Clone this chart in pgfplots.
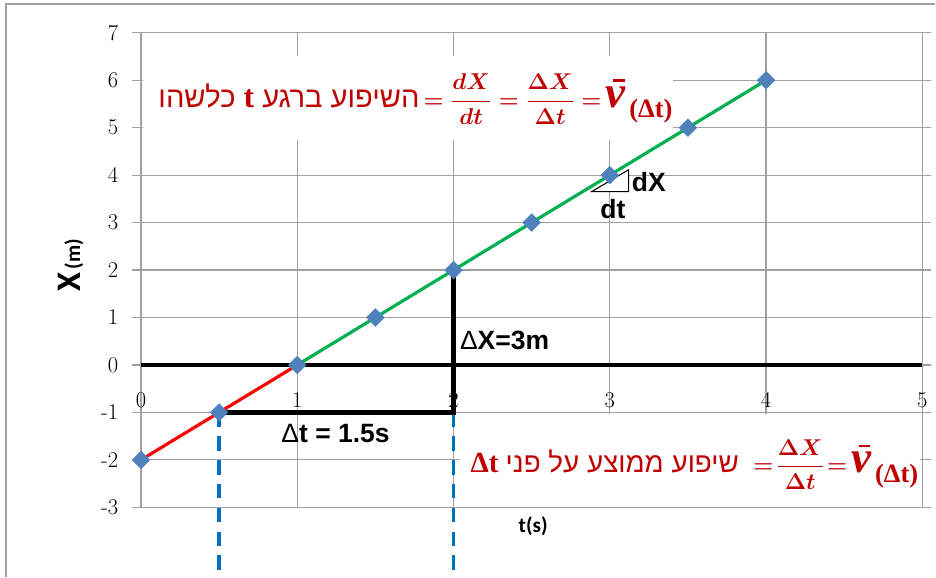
\documentclass[border=0pt]{standalone}
\usepackage{amsmath,bm}
\usepackage{pgfplots}
\pgfplotsset{compat=1.18}
\usepackage{fontspec}
\newfontfamily\hebfont[Script=Hebrew]{Liberation Sans}
\newfontfamily\arialfont{Liberation Sans}
\newfontfamily\serifb{Liberation Serif}
\newfontfamily\califont{Carlito}
\TeXXeTstate=1

\definecolor{gridgray}{HTML}{A0A0A0}
\definecolor{mkblue}{HTML}{4F81BD}
\definecolor{segred}{HTML}{FF0000}
\definecolor{seggreen}{HTML}{00B050}
\definecolor{dashblue}{HTML}{0070C0}
\definecolor{txtred}{HTML}{C00000}

% mean velocity symbol (bold italic v with a bar) and its (Delta t) index
\newcommand{\vbar}{\mbox{\serifb\bfseries\itshape\fontsize{34}{36}\selectfont\rlap{\kern6pt\rule[19pt]{8.5pt}{1.8pt}}v}\kern3pt\raisebox{-0.42em}{\serifb\bfseries\fontsize{20}{24}\selectfont(Δt)}}

\begin{document}
\begin{tikzpicture}
\begin{axis}[
  at={(0,0)}, anchor=south west,
  scale only axis, width=590.25pt, height=358.5pt,
  xmin=0, xmax=5, ymin=-3, ymax=7,
  clip=false,
  axis line style={gridgray, line width=0.9pt},
  grid=major, grid style={gridgray, line width=0.9pt},
  xtick={0,1,2,3,4,5}, ytick={-3,-2,-1,0,1,2,3,4,5,6,7},
  xticklabels={0,1,2,3,4,5},
  yticklabels={-3,-2,-1,0,1,2,3,4,5,6,7},
  tick align=outside, major tick length=6.5pt,
  tick style={gridgray, line width=0.9pt},
  xtick style={draw=none},
  yticklabel style={anchor=east, inner sep=0pt, xshift=-10.5pt, font=\fontsize{17}{17}\selectfont},
  xticklabel style={anchor=center, inner sep=0pt, yshift=87.5pt, font=\fontsize{17}{17}\selectfont},
]
% white text boxes over the grid
\fill[white] (axis cs:0.012,6.5) rectangle (axis cs:3.405,4.74);
\fill[white] (axis cs:2.04,-1.03) rectangle (axis cs:4.988,-2.985);

% horizontal axis line at x = 0
\addplot[black, line width=2.6pt] coordinates {(0,0) (5,0)};

% projections of the two ends of the interval
\addplot[dashblue, line width=2.8pt, dash pattern=on 11pt off 7pt] coordinates {(0.5,-1) (0.5,-4.38)};
\addplot[dashblue, line width=2.8pt, dash pattern=on 11pt off 7pt] coordinates {(2,-1) (2,-4.38)};

% measured positions
\addplot[only marks, mark=square*, mark size=4.7pt,
  mark options={rotate=45, fill=mkblue, draw=mkblue}]
  coordinates {(0,-2) (0.5,-1) (1,0) (1.5,1) (2,2) (2.5,3) (3,4) (3.5,5) (4,6)};

% position line
\addplot[segred, line width=2.4pt] coordinates {(0,-2) (1,0)};
\addplot[seggreen, line width=2.4pt] coordinates {(1,0) (4,6)};

% interval dt and displacement dX
\addplot[black, line width=3.2pt, line cap=rect] coordinates {(0.5,-1) (2,-1)};
\addplot[black, line width=3.6pt] coordinates {(2,-1.02) (2,2)};

% slope triangle
\draw[black, line width=0.8pt, fill=white]
  (axis cs:2.884,3.653) -- (axis cs:3.12,3.653) -- (axis cs:3.12,4.113) -- cycle;
\node[anchor=west, inner sep=0pt, font=\arialfont\bfseries\fontsize{20}{24}\selectfont]
  at (axis cs:3.14,3.86) {dX};
\node[inner sep=0pt, font=\arialfont\bfseries\fontsize{20}{24}\selectfont]
  at (axis cs:3.02,3.28) {dt};

\node[anchor=west, inner sep=0pt, font=\arialfont\bfseries\fontsize{20}{24}\selectfont]
  at (axis cs:2.04,0.515) {{\fontseries{m}\selectfont Δ}X=3m};
\node[inner sep=0pt, font=\arialfont\bfseries\fontsize{20}{24}\selectfont]
  at (axis cs:1.245,-1.45) {{\fontseries{m}\selectfont Δ}t = 1.5s};

% red formulas
\node[anchor=west, inner sep=0pt, text=txtred, font=\fontsize{18}{22}\selectfont]
  at (axis cs:0.11,5.6)
  {{\hebfont\fontsize{22}{26}\selectfont\beginR השיפוע ברגע {\serifb\bfseries\fontsize{24}{26}\selectfont t} כלשהו\endR}\,{\boldmath$=\dfrac{dX}{dt}=\dfrac{\Delta X}{\Delta t}=$}\,\vbar};
\node[anchor=east, inner sep=0pt, text=txtred, font=\fontsize{18}{22}\selectfont]
  at (axis cs:4.975,-2.1)
  {{\serifb\bfseries\fontsize{22}{26}\selectfont Δt}\ {\hebfont\fontsize{21}{26}\selectfont\beginR שיפוע ממוצע על פני\endR}\ \ {\boldmath$=\!\dfrac{\Delta X}{\Delta t}\!=$}\,\vbar};

% axis titles
\node[rotate=90, inner sep=0pt, font=\califont\bfseries]
  at (axis cs:-0.45,2.1) {{\fontsize{26}{26}\selectfont X} {\fontsize{16}{16}\selectfont (m)}};
\node[inner sep=0pt, font=\califont\bfseries\fontsize{16}{16}\selectfont]
  at (axis cs:2.51,-3.40) {t(s)};
\end{axis}
\begin{scope}[x=0.75pt, y=0.75pt]
  \draw[gridgray, line width=1.1pt] (-136,-70) -- (-136,507) -- (800,507);
  \useasboundingbox (-142,-66) rectangle (794,511);
\end{scope}
\end{tikzpicture}
\end{document}
